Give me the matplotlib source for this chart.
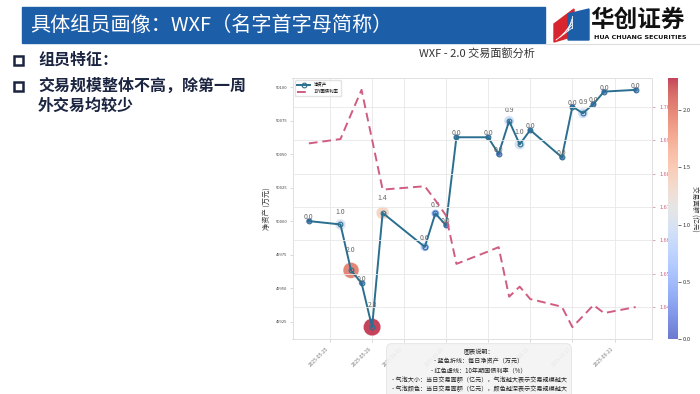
import matplotlib.pyplot as plt
import matplotlib.dates as mdates
import matplotlib.patches as patches
import pandas as pd

plt.rcParams['font.family'] = ['Noto Sans CJK SC', 'DejaVu Sans']

# data
dates = pd.to_datetime(['2025-05-23', '2025-05-26', '2025-05-27', '2025-05-28', '2025-05-29',
                        '2025-05-30', '2025-06-03', '2025-06-04', '2025-06-05', '2025-06-06',
                        '2025-06-09', '2025-06-10', '2025-06-11', '2025-06-12', '2025-06-13',
                        '2025-06-16', '2025-06-17', '2025-06-18', '2025-06-19', '2025-06-20',
                        '2025-06-23'])
net_asset = [50000.0, 49997.5, 49963.2, 49953.7, 49920.8, 50006.1, 49980.7, 50005.7, 49996.9,
             50062.6, 50062.6, 50050.1, 50074.8, 50057.3, 50068.0, 50047.6, 50085.5, 50080.5,
             50087.5, 50096.7, 50098.0]
bond_rate = [1.6890, 1.6903, 1.6977, 1.7050, 1.6901, 1.6752, 1.6762, 1.6720, 1.6675, 1.6530,
             1.6567, 1.6580, 1.6432, 1.6462, 1.6425, 1.6402, 1.6341, 1.6374, 1.6407, 1.6383,
             1.6401]
amount = [0.0, 1.0, 2.0, 0.0, 2.28, 1.4, 0.6, 0.5, 0.0, 0.0, 0.0, 0.0, 0.9, 1.0, 0.0, 0.0,
          0.0, 0.9, 0.0, 0.0, 0.0]

notes = ['图表说明：',
         '- 蓝色折线：每日净资产（万元）',
         '- 红色虚线：10年期国债利率（%）',
         '- 气泡大小：当日交易面额（亿元），气泡越大表示交易规模越大',
         '- 气泡颜色：当日交易面额（亿元），颜色越深表示交易规模越大']

W, H = 700, 394
fig = plt.figure(figsize=(7, 3.94), dpi=100)

# slide background in pixel coords
bg = fig.add_axes([0, 0, 1, 1])
bg.set_xlim(0, W)
bg.set_ylim(H, 0)
bg.axis('off')

bg.add_patch(patches.Rectangle((22, 7), 523, 36, color='#1d5ea8'))
bg.text(30, 25, '具体组员画像：WXF（名字首字母简称）', color='white', fontsize=14.5, va='center')
bg.plot([545, 700], [44, 44], color='#dddddd', lw=0.8)

# logo
bg.add_patch(patches.Polygon([(554, 24), (574, 9), (574, 36), (554, 42)], color='#d7262e'))
bg.add_patch(patches.Polygon([(568, 14), (589, 9), (589, 40), (568, 40)], color='#1d5ea8'))
for k in range(5):
    bg.plot([556 + 4 * k, 572], [40 - 3 * k, 28 - 3 * k], color='white', lw=0.6)
bg.text(590, 20, '华创证券', fontsize=17, weight='bold', color='#111111', va='center')
bg.text(640, 37.5, 'HUA CHUANG SECURITIES', fontsize=4.6, weight='bold', color='#111111',
        va='center', ha='center', family='DejaVu Sans')

# left bullets
for y, txt in [(60, '组员特征：'), (86, '交易规模整体不高，除第一周')]:
    bg.add_patch(patches.Rectangle((13.5, y - 4.5), 9, 9, fill=False, ec='#1b2440', lw=1.8))
    bg.text(38, y, txt, fontsize=11.5, weight='bold', color='#1b2440', va='center')
bg.text(38, 106, '外交易均较少', fontsize=11.5, weight='bold', color='#1b2440', va='center')

# chart
line_c = '#2a6f8f'
red_c = '#d05d80'
ax = fig.add_axes([292.5 / W, 1 - 339 / H, (652 - 292.5) / W, (339 - 78) / H])
ax.plot(dates, net_asset, color=line_c, lw=1.4, marker='o', ms=3.4, mfc='none', mec=line_c,
        mew=0.8, label='净资产', zorder=3)
diam_pt = [(5.5 + 5.2 * a) * 0.72 for a in amount]
sc = ax.scatter(dates, net_asset, s=[d ** 2 for d in diam_pt], c=amount, cmap='coolwarm',
                vmin=0, vmax=max(amount), alpha=0.75, edgecolors='white', linewidths=0.3, zorder=2)
for d, v, a in zip(dates, net_asset, amount):
    ax.annotate(f'{a:.1f}', (d, v), xytext=(0, (4 + 8 * a) * 0.72), textcoords='offset points',
                ha='center', va='center', fontsize=5, color='#666666', zorder=4)

ax2 = ax.twinx()
ax2.plot(dates, bond_rate, color=red_c, lw=1.4, ls='--', dashes=(4.5, 2.5), label='10Y国债利率')

ax.xaxis.set_major_locator(mdates.DayLocator(bymonthday=[1, 5, 9, 13, 17, 21, 25, 29]))
ax.xaxis.set_major_formatter(mdates.DateFormatter('%Y-%m-%d'))
for lab in ax.get_xticklabels():
    lab.set_rotation(45)
    lab.set_ha('right')
ax.tick_params(axis='x', labelsize=3.5, labelcolor='#777777', length=2, width=0.4, color='#bbbbbb')
ax.tick_params(axis='y', labelsize=3, labelcolor='#444444', length=2, width=0.4, color='#bbbbbb',
               pad=1.5)
ax2.tick_params(axis='y', labelsize=4, labelcolor=red_c, length=2, width=0.4, color=red_c)
ax2.yaxis.set_major_formatter(plt.FormatStrFormatter('%.2f'))
ax.grid(axis='x', color='#e8e8e8', lw=0.6)
ax2.grid(axis='y', color='#e8e8e8', lw=0.6)
ax.set_axisbelow(True)
for a_ in (ax, ax2):
    for s in a_.spines.values():
        s.set_color('#e0e0e0')
        s.set_linewidth(0.6)

h1, l1 = ax.get_legend_handles_labels()
h2, l2 = ax2.get_legend_handles_labels()
ax2.legend(h1 + h2, l1 + l2, loc='upper left', fontsize=3.2, frameon=True, edgecolor='#dddddd',
           handlelength=3, borderpad=0.5, labelspacing=0.4)

fig.text(267 / W, 1 - 208.5 / H, '净资产 (万元)', rotation=90, ha='center', va='center',
         fontsize=5.2, color='#333333')
fig.text(477 / W, 1 - 53 / H, 'WXF - 2.0 交易面额分析', ha='center', va='center',
         fontsize=8, color='#333333')

cax = fig.add_axes([668 / W, 1 - 339 / H, 10 / W, (339 - 78) / H])
cb = fig.colorbar(sc, cax=cax)
cb.outline.set_visible(False)
cb.set_ticks([0, 0.5, 1.0, 1.5, 2.0])
cb.ax.yaxis.set_major_formatter(plt.FormatStrFormatter('%.1f'))
cb.ax.tick_params(labelsize=4.2, length=2, width=0.4, labelcolor='#333333', pad=1.2)
fig.text(694.5 / W, 1 - 208.5 / H, '交易面额 (亿元)', rotation=270, ha='center', va='center',
         fontsize=4.8, color='#333333')

fig.text(479 / W, 1 - 371 / H, '\n'.join(notes), ha='center', va='center', fontsize=4.4,
         linespacing=1.2, color='#222222',
         bbox=dict(boxstyle='round,pad=0.8', fc='#f3f3f3', ec='#dddddd', lw=0.5, alpha=0.9))

fig.savefig('out.png', dpi=100)
